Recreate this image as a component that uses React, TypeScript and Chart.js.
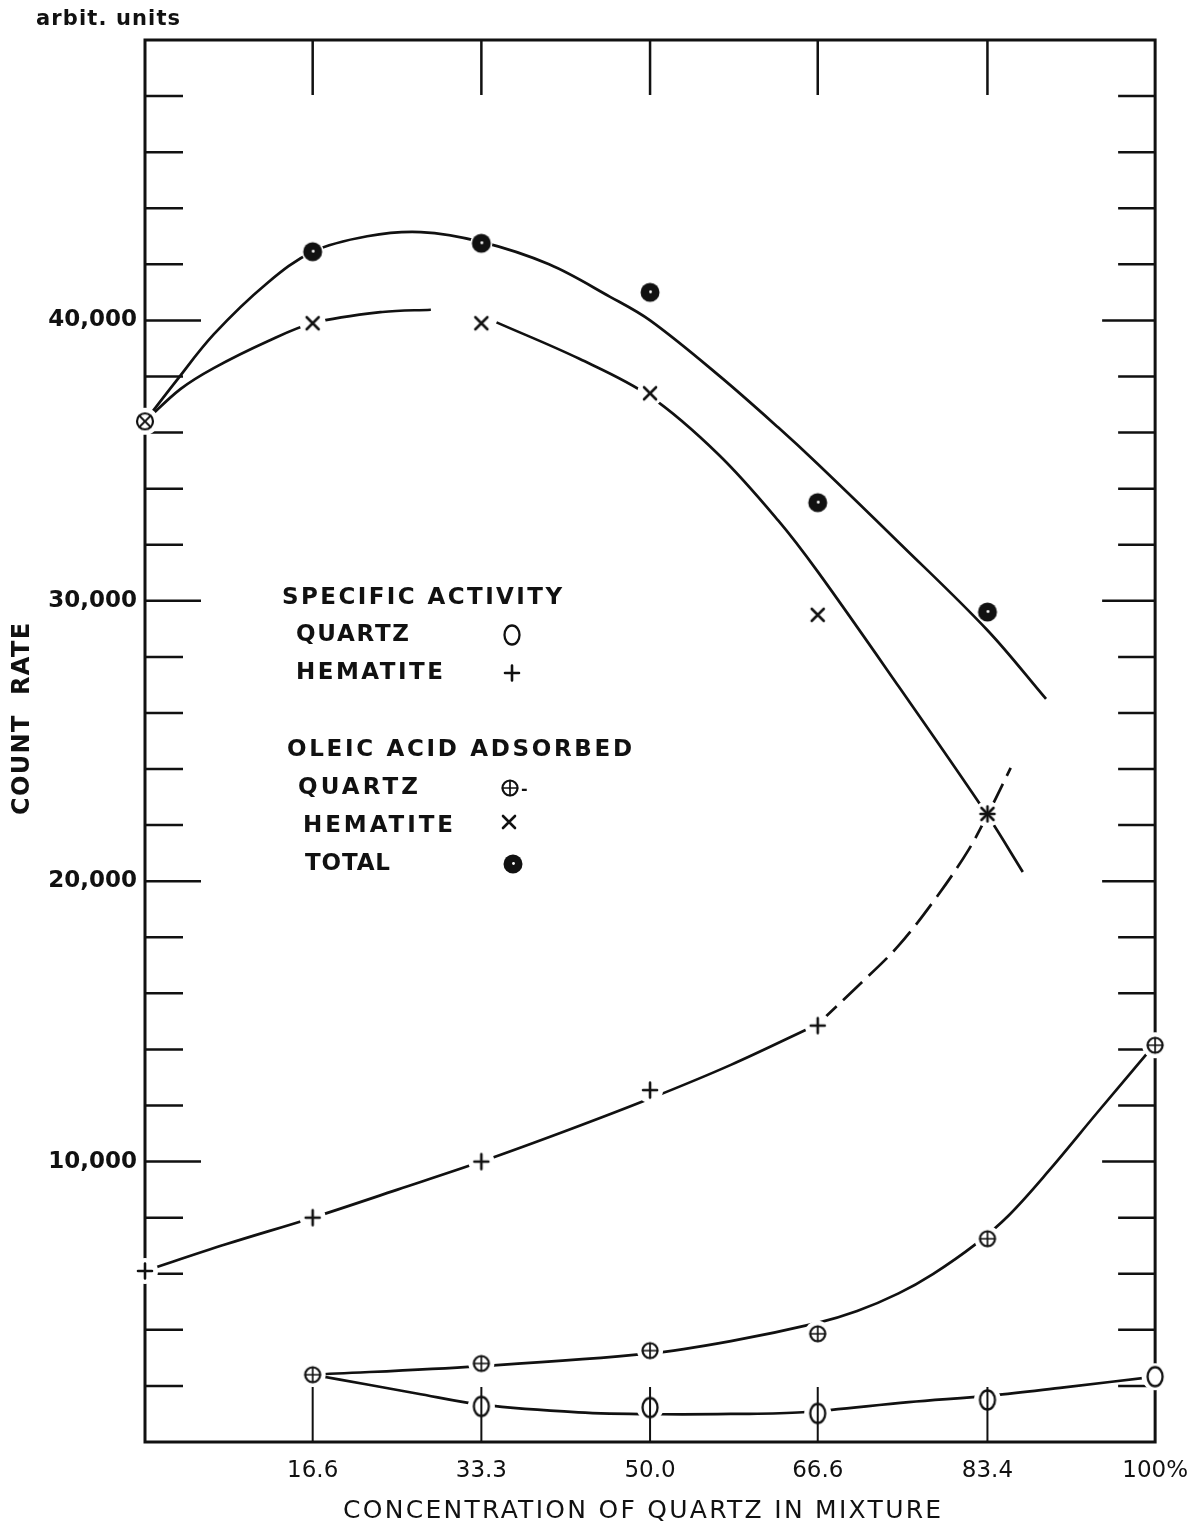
import React, { useEffect, useRef } from "react";
import { Chart, registerables } from "chart.js";

Chart.register(...registerables);

// ---------------- data ----------------
const xTickValues = [16.6, 33.3, 50.0, 66.6, 83.4, 100];
const xTickLabels = ["16.6", "33.3", "50.0", "66.6", "83.4", "100%"];
const yMin = 0;
const yMax = 50000;
const yStep = 2000;
const yLabelValues = [10000, 20000, 30000, 40000];

// measured points (concentration of quartz %, count rate)
const totalX = [16.6, 33.3, 50.0, 66.6, 83.4];
const totalY = [42450, 42750, 41000, 33500, 29600];
const hemAdsX = [16.6, 33.3, 50.0, 66.6, 83.4];
const hemAdsY = [39900, 39900, 37400, 29500, 22400];
const hemSpecX = [0, 16.6, 33.3, 50.0, 66.6, 83.4];
const hemSpecY = [6100, 8000, 10000, 12550, 14850, 22400];
const qAdsX = [16.6, 33.3, 50.0, 66.6, 83.4, 100];
const qAdsY = [2400, 2800, 3260, 3860, 7250, 14150];
const qSpecX = [33.3, 50.0, 66.6, 83.4, 100];
const qSpecY = [1270, 1230, 1020, 1500, 2330];
const pureHemX = [0];
const pureHemY = [36400];

// hand-drawn fitted curves
const totalCurveX = [0, 3, 6.8, 12, 16.6, 22, 27.3, 33.3, 40, 46, 50, 56.8, 62.7, 66.6, 74.6, 83.4, 89.2];
const totalCurveY = [36400, 37800, 39500, 41300, 42450, 43000, 43150, 42800, 42000, 40850, 40000, 38040, 36180, 34880, 32090, 28950, 26500];
const hemAdsCurveX = [0, 3.5, 6.8, 12.1, 16.6, 23.5, 28.3, 31, 34.8, 43, 50, 56.8, 62.7, 66.6, 74.6, 83.4, 86.9];
const hemAdsCurveY = [36400, 37550, 38300, 39250, 39900, 40300, 40380, null, 39930, 38630, 37290, 35210, 32860, 31040, 26950, 22350, 20330];
const hemSpecSolidX = [0, 8, 16.6, 25, 33.3, 41.7, 50, 58, 66.6];
const hemSpecSolidY = [6100, 7050, 8000, 9000, 10000, 11100, 12250, 13450, 14900];
const hemSpecDashX = [66.6, 70.4, 74.6, 78.5, 81.5, 83.5, 85.7];
const hemSpecDashY = [14900, 16200, 17700, 19500, 21100, 22430, 24040];
const qAdsCurveX = [16.6, 33, 49.8, 58, 66.6, 70.5, 74.6, 78, 82.2, 85.5, 89.4, 94.3, 100];
const qAdsCurveY = [2400, 2700, 3150, 3600, 4250, 4670, 5300, 5990, 7050, 8080, 9640, 11760, 14200];
const qSpecCurveX = [16.6, 22, 26.9, 33.3, 42.9, 51.2, 58, 65.1, 75.6, 83.9, 91, 100];
const qSpecCurveY = [2400, 2050, 1730, 1330, 1060, 990, 1000, 1060, 1420, 1660, 1950, 2330];

// ---------------- styling ----------------
const INK = "#111";
const FONT = "'DejaVu Sans', sans-serif";
const W = 1203;
const H = 1531;

function zip(xs: number[], ys: (number | null)[]) {
  return xs.map((x, i) => ({ x, y: ys[i] }));
}

function makeSymbol(kind: string): HTMLCanvasElement {
  const s = 32;
  const c = document.createElement("canvas");
  c.width = s;
  c.height = s;
  const g = c.getContext("2d")!;
  g.translate(s / 2, s / 2);
  g.strokeStyle = INK;
  g.fillStyle = INK;
  g.lineCap = "round";
  const circle = (r: number) => {
    g.beginPath();
    g.arc(0, 0, r, 0, Math.PI * 2);
  };
  switch (kind) {
    case "dot":
      circle(9.5);
      g.fill();
      g.fillStyle = "#fff";
      g.beginPath();
      g.arc(0.5, -0.5, 1.4, 0, Math.PI * 2);
      g.fill();
      break;
    case "x":
      g.lineWidth = 2.6;
      g.beginPath();
      g.moveTo(-6, -6);
      g.lineTo(6, 6);
      g.moveTo(6, -6);
      g.lineTo(-6, 6);
      g.stroke();
      break;
    case "plus":
      g.lineWidth = 2.6;
      g.beginPath();
      g.moveTo(-7, 0);
      g.lineTo(7, 0);
      g.moveTo(0, -7.5);
      g.lineTo(0, 7.5);
      g.stroke();
      break;
    case "oplus":
      g.lineWidth = 2.2;
      circle(7.5);
      g.stroke();
      g.lineWidth = 1.7;
      g.beginPath();
      g.moveTo(-7.5, 0);
      g.lineTo(7.5, 0);
      g.moveTo(0, -7.5);
      g.lineTo(0, 7.5);
      g.stroke();
      break;
    case "o":
      g.lineWidth = 2.3;
      g.beginPath();
      g.ellipse(0, 0, 7.5, 9.5, 0, 0, Math.PI * 2);
      g.stroke();
      break;
    case "otimes":
      g.lineWidth = 2.2;
      circle(8);
      g.stroke();
      g.lineWidth = 1.8;
      g.beginPath();
      g.moveTo(-5.5, -5.5);
      g.lineTo(5.5, 5.5);
      g.moveTo(5.5, -5.5);
      g.lineTo(-5.5, 5.5);
      g.stroke();
      break;
  }
  return c;
}

function spacedText(
  ctx: CanvasRenderingContext2D,
  text: string,
  x: number,
  y: number,
  font: string,
  width: number,
  align: "left" | "center"
) {
  ctx.save();
  ctx.font = font;
  ctx.textBaseline = "middle";
  ctx.textAlign = "left";
  const anyCtx = ctx as any;
  if ("letterSpacing" in anyCtx) anyCtx.letterSpacing = "0px";
  const natural = ctx.measureText(text).width;
  const ls = text.length > 1 ? (width - natural) / (text.length - 1) : 0;
  if ("letterSpacing" in anyCtx) anyCtx.letterSpacing = `${ls.toFixed(2)}px`;
  const startX = align === "center" ? x - width / 2 : x;
  ctx.fillStyle = INK;
  ctx.fillText(text, startX, y);
  ctx.restore();
}

export default function App() {
  const ref = useRef<HTMLCanvasElement>(null);

  useEffect(() => {
    const canvas = ref.current!;
    const sym: Record<string, HTMLCanvasElement> = {
      dot: makeSymbol("dot"),
      x: makeSymbol("x"),
      plus: makeSymbol("plus"),
      oplus: makeSymbol("oplus"),
      o: makeSymbol("o"),
      otimes: makeSymbol("otimes"),
    };

    const curve = (xs: number[], ys: (number | null)[], extra: any = {}) => ({
      data: zip(xs, ys),
      borderColor: INK,
      borderWidth: 2.7,
      pointRadius: 0,
      fill: false,
      tension: 0.35,
      spanGaps: false,
      order: 3,
      clip: false,
      ...extra,
    });
    const halo = (xs: number[], ys: number[], r: number) => ({
      data: zip(xs, ys),
      showLine: false,
      pointStyle: "circle",
      pointRadius: r,
      pointBackgroundColor: "#fff",
      pointBorderColor: "#fff",
      pointBorderWidth: 0,
      order: 2,
      clip: false,
    });
    const marks = (xs: number[], ys: number[], img: HTMLCanvasElement) => ({
      data: zip(xs, ys),
      showLine: false,
      pointStyle: img,
      pointRadius: 8,
      order: 1,
      clip: false,
    });

    const framePlugin = {
      id: "frameTicks",
      beforeDatasetsDraw(chart: any) {
        const { ctx, chartArea: a, scales } = chart;
        const ys = scales.y;
        const xs = scales.x;
        ctx.save();
        ctx.strokeStyle = INK;
        ctx.lineWidth = 3;
        ctx.strokeRect(a.left, a.top, a.right - a.left, a.bottom - a.top);
        ctx.lineWidth = 2.5;
        ctx.beginPath();
        ys.ticks.forEach((t: any) => {
          const v = t.value;
          if (v <= yMin || v >= yMax) return;
          const py = ys.getPixelForValue(v);
          const major = v % 10000 === 0;
          ctx.moveTo(a.left, py);
          ctx.lineTo(a.left + (major ? 56 : 38), py);
          ctx.moveTo(a.right, py);
          ctx.lineTo(a.right - (major ? 53 : 37), py);
        });
        xTickValues.forEach((v) => {
          if (v >= 100) return;
          const px = xs.getPixelForValue(v);
          ctx.moveTo(px, a.top);
          ctx.lineTo(px, a.top + 55);
        });
        ctx.stroke();
        ctx.restore();
      },
      afterDatasetsDraw(chart: any) {
        const { ctx, chartArea: a, scales } = chart;
        const xs = scales.x;
        ctx.save();
        ctx.strokeStyle = INK;
        ctx.lineWidth = 2;
        ctx.beginPath();
        xTickValues.forEach((v) => {
          if (v >= 100) return;
          const px = xs.getPixelForValue(v);
          ctx.moveTo(px, a.bottom);
          ctx.lineTo(px, a.bottom - 55);
        });
        ctx.stroke();
        ctx.restore();

        // axis titles
        spacedText(ctx, "arbit. units", 36, 20, `bold 21px ${FONT}`, 144, "left");
        spacedText(ctx, "CONCENTRATION OF QUARTZ IN MIXTURE", 642, 1511, `25px ${FONT}`, 598, "center");
        ctx.save();
        ctx.translate(23, 719);
        ctx.rotate(-Math.PI / 2);
        spacedText(ctx, "COUNT  RATE", 0, 0, `bold 24px ${FONT}`, 192, "center");
        ctx.restore();

        // in-plot legend
        const lf = `bold 23px ${FONT}`;
        spacedText(ctx, "SPECIFIC ACTIVITY", 282, 598, lf, 280, "left");
        spacedText(ctx, "QUARTZ", 296, 635, lf, 113, "left");
        spacedText(ctx, "HEMATITE", 296, 673, lf, 147, "left");
        spacedText(ctx, "OLEIC ACID ADSORBED", 287, 750, lf, 345, "left");
        spacedText(ctx, "QUARTZ", 298, 788, lf, 120, "left");
        spacedText(ctx, "HEMATITE", 303, 826, lf, 150, "left");
        spacedText(ctx, "TOTAL", 305, 864, lf, 85, "left");
        const put = (img: HTMLCanvasElement, x: number, y: number) =>
          ctx.drawImage(img, x - img.width / 2, y - img.height / 2);
        put(sym.o, 512, 635);
        put(sym.plus, 512, 673);
        put(sym.oplus, 510, 788);
        spacedText(ctx, "-", 521, 790, `bold 16px ${FONT}`, 6, "left");
        put(sym.x, 509, 822);
        put(sym.dot, 513, 864);
      },
    };

    const chart = new Chart(canvas, {
      type: "line",
      data: {
        datasets: [
          // curves
          curve(totalCurveX, totalCurveY),
          curve(hemAdsCurveX, hemAdsCurveY),
          curve(hemSpecSolidX, hemSpecSolidY),
          curve(hemSpecDashX, hemSpecDashY, { borderDash: [26, 9] }),
          curve(qAdsCurveX, qAdsCurveY),
          curve(qSpecCurveX, qSpecCurveY),
          // white halos where the hand-drawn lines stop short of the marks
          halo(totalX, totalY, 11),
          halo(hemAdsX, hemAdsY, 13),
          halo(hemSpecX, hemSpecY, 13),
          halo(qAdsX, qAdsY, 13),
          halo(qSpecX, qSpecY, 13.5),
          halo(pureHemX, pureHemY, 13.5),
          // marks
          marks(totalX, totalY, sym.dot),
          marks(hemAdsX, hemAdsY, sym.x),
          marks(hemSpecX, hemSpecY, sym.plus),
          marks(qAdsX, qAdsY, sym.oplus),
          marks(qSpecX, qSpecY, sym.o),
          marks(pureHemX, pureHemY, sym.otimes),
        ] as any,
      },
      options: {
        responsive: false,
        animation: false,
        devicePixelRatio: 1,
        events: [],
        layout: {
          autoPadding: false,
          padding: { top: 40, right: W - 1157, left: 0, bottom: 0 },
        },
        plugins: {
          legend: { display: false },
          tooltip: { enabled: false },
          title: { display: false },
        },
        scales: {
          x: {
            type: "linear",
            min: 0,
            max: 100,
            grid: { display: false, drawTicks: false },
            border: { display: false },
            afterBuildTicks: (axis: any) => {
              axis.ticks = xTickValues.map((v) => ({ value: v }));
            },
            afterFit: (axis: any) => {
              axis.height = H - 1442;
            },
            ticks: {
              autoSkip: false,
              maxRotation: 0,
              minRotation: 0,
              padding: 15,
              color: INK,
              font: { family: FONT, size: 23 },
              callback: (v: any) => {
                const i = xTickValues.indexOf(Number(v));
                return i >= 0 ? xTickLabels[i] : "";
              },
            },
          },
          y: {
            type: "linear",
            min: yMin,
            max: yMax,
            grid: { display: false, drawTicks: false },
            border: { display: false },
            afterFit: (axis: any) => {
              axis.width = 145;
            },
            ticks: {
              stepSize: yStep,
              maxTicksLimit: 100,
              autoSkip: false,
              padding: 8,
              color: INK,
              font: { family: FONT, size: 23, weight: "bold" },
              callback: (v: any) =>
                yLabelValues.includes(Number(v)) ? Number(v).toLocaleString("en-US") : "",
            },
          },
        },
      } as any,
      plugins: [framePlugin],
    });

    return () => chart.destroy();
  }, []);

  return (
    <div style={{ position: "absolute", left: 0, top: 0, width: W, height: H, background: "#fff" }}>
      <canvas ref={ref} width={W} height={H} style={{ width: W, height: H, display: "block" }} />
    </div>
  );
}
